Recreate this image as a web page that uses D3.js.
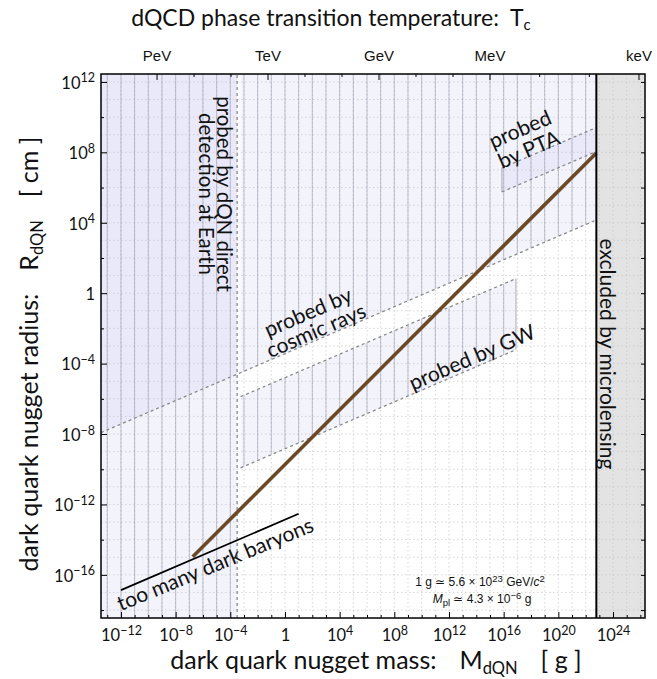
<!DOCTYPE html>
<html>
<head>
<meta charset="utf-8">
<script src="https://cdn.jsdelivr.net/npm/d3@7"></script>
<style>
  body { margin: 0; background: #fff; }
  text { font-family: Lato, "Noto Sans", sans-serif; fill: #111; white-space: pre; }
  .arial { font-family: "Liberation Sans", Arial, sans-serif; }
</style>
</head>
<body>
<div id="graph"></div>
<script>
// all values are log10 of mass [g] and radius [cm]
var massTickExps = [-12, -8, -4, 0, 4, 8, 12, 16, 20, 24];
var radiusTickExps = [-16, -12, -8, -4, 0, 4, 8, 12];
var tempLabels = ["PeV", "TeV", "GeV", "MeV", "keV"];
var tempLogMass = [-9.36, -1.24, 6.88, 15.0, 25.9];

var massRange = [-13.46, 26.34];
var radiusRange = [-18.45, 12.45];

var dqnLine = [[-6.75, -14.97], [22.78, 7.96]];
var baryonLine = [[-12, -16.87], [1, -12.53]];
var cosmicLine = [[-13.46, -7.92], [22.78, 4.16]];
var gwUpper = [[-3.25, -5.88], [16.9, 0.83]];
var gwLower = [[-3.25, -9.92], [16.9, -3.21]];
var ptaUpper = [[15.87, 7.11], [22.78, 9.41]];
var ptaLower = [[15.87, 5.75], [22.78, 8.05]];
var directLimit = -3.5;
var probeStart = -3.25;
var microLimit = 22.78;

var margin = { top: 74, right: 12, bottom: 61, left: 101 },
  width = 544,
  height = 544;

var svg = d3
  .select("div#graph")
  .append("svg")
  .attr("width", 657)
  .attr("height", 679);

var g = svg
  .append("g")
  .attr("transform", "translate(" + margin.left + "," + margin.top + ")");

var x = d3
  .scaleLog()
  .domain(massRange.map(function (e) { return Math.pow(10, e); }))
  .range([0, width]);
var y = d3
  .scaleLog()
  .domain(radiusRange.map(function (e) { return Math.pow(10, e); }))
  .range([height, 0]);

function px(e) { return x(Math.pow(10, e)); }
function py(e) { return y(Math.pow(10, e)); }

// radius on a straight (log-log) line at a given mass
function at(line, e) {
  var t = (e - line[0][0]) / (line[1][0] - line[0][0]);
  return line[0][1] + t * (line[1][1] - line[0][1]);
}

var line = d3
  .line()
  .x(function (d) { return px(d[0]); })
  .y(function (d) { return py(d[1]); });

var xmin = massRange[0], xmax = massRange[1],
  ymin = radiusRange[0], ymax = radiusRange[1];

var regions = [
  // direct detection
  [[xmin, ymin], [directLimit, ymin], [directLimit, ymax], [xmin, ymax]],
  // cosmic rays (left and right of the direct-detection edge)
  [[xmin, at(cosmicLine, xmin)], [directLimit, at(cosmicLine, directLimit)], [directLimit, ymax], [xmin, ymax]],
  [[probeStart, at(cosmicLine, probeStart)], [microLimit, at(cosmicLine, microLimit)], [microLimit, ymax], [probeStart, ymax]],
  // gravitational waves
  [gwUpper[0], gwUpper[1], gwLower[1], gwLower[0]],
  // pulsar timing
  [ptaUpper[0], ptaUpper[1], ptaLower[1], ptaLower[0]]
];

g.append("rect").attr("width", width).attr("height", height).attr("fill", "#fff");

var defs = svg.append("defs");
defs
  .append("clipPath")
  .attr("id", "plotclip")
  .append("rect")
  .attr("width", width)
  .attr("height", height);
defs
  .append("clipPath")
  .attr("id", "shadeclip")
  .selectAll("path")
  .data(regions)
  .enter()
  .append("path")
  .attr("d", function (d) { return line(d) + "Z"; });

var plot = g.append("g").attr("clip-path", "url(#plotclip)");

plot
  .append("g")
  .selectAll("path")
  .data(regions)
  .enter()
  .append("path")
  .attr("d", function (d) { return line(d) + "Z"; })
  .attr("fill", "#c8c8f0")
  .attr("fill-opacity", 0.22);

// microlensing exclusion
plot
  .append("rect")
  .attr("x", px(microLimit))
  .attr("width", width - px(microLimit))
  .attr("height", height)
  .attr("fill", "#e3e3e3");

// grid
var gridX = d3.range(-13, 27);
var gridY = d3.range(-18, 13);

plot
  .append("g")
  .selectAll("line")
  .data(gridX)
  .enter()
  .append("line")
  .attr("x1", px).attr("x2", px)
  .attr("y1", 0).attr("y2", height)
  .attr("stroke", "#c4c4c4")
  .attr("stroke-width", 0.7)
  .attr("stroke-dasharray", "1.5,2.5");

plot
  .append("g")
  .selectAll("line")
  .data(gridY)
  .enter()
  .append("line")
  .attr("y1", py).attr("y2", py)
  .attr("x1", 0).attr("x2", width)
  .attr("stroke", "#c4c4c4")
  .attr("stroke-width", 0.7)
  .attr("stroke-dasharray", "1.5,2.5");

// darker mesh lines inside the probed regions
plot
  .append("g")
  .attr("clip-path", "url(#shadeclip)")
  .selectAll("line")
  .data(gridX)
  .enter()
  .append("line")
  .attr("x1", px).attr("x2", px)
  .attr("y1", 0).attr("y2", height)
  .attr("stroke", "#9c9cae")
  .attr("stroke-opacity", 0.75)
  .attr("stroke-width", 0.8);

// region edges
plot
  .append("g")
  .selectAll("line")
  .data([[ptaUpper[0], ptaLower[0]], [gwUpper[1], gwLower[1]]])
  .enter()
  .append("line")
  .attr("x1", function (d) { return px(d[0][0]); })
  .attr("x2", function (d) { return px(d[1][0]); })
  .attr("y1", function (d) { return py(d[0][1]); })
  .attr("y2", function (d) { return py(d[1][1]); })
  .attr("stroke", "#aaaab8")
  .attr("stroke-width", 1);

// dashed boundaries
plot
  .append("g")
  .selectAll("path")
  .data([cosmicLine, gwUpper, gwLower, ptaUpper, ptaLower, [[directLimit, ymin], [directLimit, ymax]]])
  .enter()
  .append("path")
  .attr("d", line)
  .attr("fill", "none")
  .attr("stroke", "#8a8a8a")
  .attr("stroke-width", 1.3)
  .attr("stroke-dasharray", "3,3");

plot
  .append("path")
  .datum(dqnLine)
  .attr("d", line)
  .attr("fill", "none")
  .attr("stroke", "#6b4926")
  .attr("stroke-width", 3.6);

plot
  .append("path")
  .datum(baryonLine)
  .attr("d", line)
  .attr("fill", "none")
  .attr("stroke", "#000")
  .attr("stroke-width", 1.8);

plot
  .append("line")
  .attr("x1", px(microLimit)).attr("x2", px(microLimit))
  .attr("y1", 0).attr("y2", height)
  .attr("stroke", "#000")
  .attr("stroke-width", 2);

// axes, ticks pointing inward
function powLabel(sel, e) {
  if (e === 0) {
    sel.text("1");
    return;
  }
  sel.text("10");
  sel
    .append("tspan")
    .attr("dy", "-0.5em")
    .attr("font-size", "12.5px")
    .text(String(e).replace("-", "\u2212"));
}

var xAxis = d3
  .axisBottom(x)
  .tickValues(gridX.map(function (e) { return Math.pow(10, e); }))
  .tickSize(-6)
  .tickFormat("");
var gx = g.append("g").attr("transform", "translate(0," + height + ")").call(xAxis);
gx.select(".domain").remove();
gx.selectAll(".tick").each(function (d) {
  var e = Math.round(Math.log10(d));
  var major = massTickExps.indexOf(e) >= 0;
  var t = d3.select(this);
  t.select("line").attr("y2", major ? -6 : -3);
  t.select("text").remove();
  if (major) {
    t.append("text")
      .attr("y", 23)
      .attr("text-anchor", "middle")
      .attr("font-size", "16.5px")
      .call(powLabel, e);
  }
});

// top: dQCD temperature scale
var tempMinor = [];
tempLogMass.forEach(function (m, i) {
  if (i < tempLogMass.length - 1) {
    var step = (tempLogMass[i + 1] - m) / 3;
    tempMinor.push(m + step, m + 2 * step);
  }
});
g.append("g")
  .selectAll("line")
  .data(tempLogMass.concat(tempMinor))
  .enter()
  .append("line")
  .attr("x1", px).attr("x2", px)
  .attr("y1", 0)
  .attr("y2", function (d) { return tempLogMass.indexOf(d) >= 0 ? 6 : 3; })
  .attr("stroke", "#000");

g.append("g")
  .selectAll("text")
  .data(tempLabels)
  .enter()
  .append("text")
  .attr("class", "arial")
  .attr("x", function (d, i) { return Math.min(px(tempLogMass[i]), width); })
  .attr("y", -13)
  .attr("text-anchor", "middle")
  .attr("font-size", "15px")
  .text(function (d) { return d; });

var gridYEven = gridY.filter(function (e) { return e % 2 === 0; });
var yAxis = d3
  .axisLeft(y)
  .tickValues(gridYEven.map(function (e) { return Math.pow(10, e); }))
  .tickSize(-6)
  .tickFormat("");
var gy = g.append("g").call(yAxis);
gy.select(".domain").remove();
gy.selectAll(".tick").each(function (d) {
  var e = Math.round(Math.log10(d));
  var major = radiusTickExps.indexOf(e) >= 0;
  var t = d3.select(this);
  t.select("line").attr("x2", major ? 6 : 3);
  t.select("text").remove();
  if (major) {
    t.append("text")
      .attr("x", -6)
      .attr("dy", "0.38em")
      .attr("text-anchor", "end")
      .attr("font-size", "16.5px")
      .call(powLabel, e);
  }
});

var yAxisRight = d3
  .axisRight(y)
  .tickValues(gridYEven.map(function (e) { return Math.pow(10, e); }))
  .tickSize(-4)
  .tickFormat("");
var gyr = g.append("g").attr("transform", "translate(" + width + ",0)").call(yAxisRight);
gyr.select(".domain").remove();

g.append("rect")
  .attr("width", width)
  .attr("height", height)
  .attr("fill", "none")
  .attr("stroke", "#000")
  .attr("stroke-width", 1.5);

// titles
var title = svg
  .append("text")
  .attr("x", 331)
  .attr("y", 26)
  .attr("text-anchor", "middle")
  .attr("font-size", "23px")
  .text("dQCD phase transition temperature:  T");
title.append("tspan").attr("dy", 4).attr("font-size", "15px").text("c");

var xLabel = svg
  .append("text")
  .attr("x", 376)
  .attr("y", 669)
  .attr("text-anchor", "middle")
  .attr("font-size", "25px")
  .text("dark quark nugget mass:");
xLabel.append("tspan").attr("dx", 23).text("M");
xLabel.append("tspan").attr("dy", 5).attr("font-size", "16.5px").text("dQN");
xLabel.append("tspan").attr("dy", -5).attr("dx", 23).text("[ g ]");

var yLabel = svg
  .append("text")
  .attr("transform", "translate(38,354) rotate(-90)")
  .attr("text-anchor", "middle")
  .attr("font-size", "25px")
  .text("dark quark nugget radius:");
yLabel.append("tspan").attr("dx", 23).text("R");
yLabel.append("tspan").attr("dy", 5).attr("font-size", "16.5px").text("dQN");
yLabel.append("tspan").attr("dy", -5).attr("dx", 23).text("[ cm ]");

// annotations
function multiLine(transform, lines, size, gap) {
  var t = svg
    .append("text")
    .attr("transform", transform)
    .attr("text-anchor", "middle")
    .attr("font-size", size + "px");
  lines.forEach(function (s, i) {
    t.append("tspan").attr("x", 0).attr("y", i * gap).text(s);
  });
}

multiLine("translate(217,194) rotate(90)", ["probed by dQN direct", "detection at Earth"], 20.5, 18);
multiLine("translate(311,319) rotate(-23.3)", ["probed by", "cosmic rays"], 21, 20);
multiLine("translate(475,364) rotate(-23.3)", ["probed by GW"], 21, 20);
multiLine("translate(523,136) rotate(-23.3)", ["probed", "by PTA"], 21, 22);
multiLine("translate(600,354) rotate(90)", ["excluded by microlensing"], 21, 20);
multiLine("translate(218,571) rotate(-22.5)", ["too many dark baryons"], 21, 20);

var note1 = svg
  .append("text")
  .attr("class", "arial")
  .attr("x", 480)
  .attr("y", 586)
  .attr("text-anchor", "middle")
  .attr("font-size", "12px")
  .text("1 g \u2243 5.6 \u00d7 10");
note1.append("tspan").attr("dy", -4.5).attr("font-size", "9.5px").text("23");
note1.append("tspan").attr("dy", 4.5).text(" GeV/");
note1.append("tspan").attr("font-style", "italic").text("c");
note1.append("tspan").attr("dy", -4.5).attr("font-size", "9.5px").text("2");

var note2 = svg
  .append("text")
  .attr("class", "arial")
  .attr("x", 482)
  .attr("y", 603)
  .attr("text-anchor", "middle")
  .attr("font-size", "12px");
note2.append("tspan").attr("font-style", "italic").text("M");
note2.append("tspan").attr("dy", 3).attr("font-size", "9.5px").text("pl");
note2.append("tspan").attr("dy", -3).text(" \u2243 4.3 \u00d7 10");
note2.append("tspan").attr("dy", -4).attr("font-size", "9.5px").text("\u22126");
note2.append("tspan").attr("dy", 4).text(" g");
</script>
</body>
</html>
